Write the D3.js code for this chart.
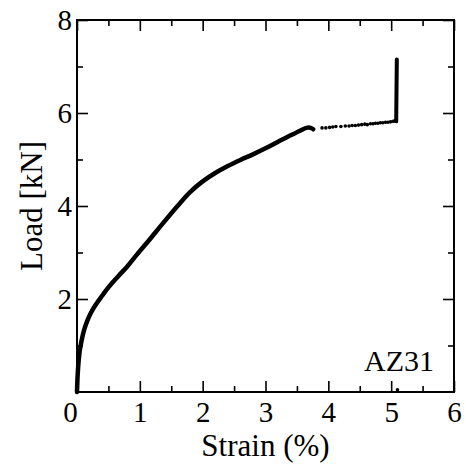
<!DOCTYPE html>
<html>
<head>
<meta charset="utf-8">
<script src="https://cdn.jsdelivr.net/npm/d3@7"></script>
<style>
  body { margin: 0; background: #fff; }
  text { font-family: "Liberation Serif", "Times New Roman", serif; }
</style>
</head>
<body>
<div id="plot"></div>
<script>
// main loading curve (dense data, drawn as a thick line)
let strain = [0, 0.01, 0.025, 0.045, 0.075, 0.11, 0.16, 0.22, 0.3, 0.4, 0.5, 0.65, 0.8, 0.95,
  1.15, 1.35, 1.6, 1.8, 2.0, 2.2, 2.4, 2.6, 2.8, 3.0, 3.2, 3.4, 3.55, 3.65, 3.72, 3.76];
let load = [0, 0.35, 0.65, 0.9, 1.12, 1.32, 1.52, 1.7, 1.88, 2.07, 2.25, 2.48, 2.7, 2.95,
  3.27, 3.6, 4.0, 4.3, 4.53, 4.71, 4.86, 4.99, 5.11, 5.24, 5.38, 5.52, 5.62, 5.68, 5.68, 5.65];

// sparse points after the necking
let dotStrain = [3.9, 3.96, 4.02, 4.07, 4.12, 4.2, 4.27, 4.33, 4.38, 4.43, 4.48, 4.53, 4.58, 4.62,
  4.67, 4.71, 4.75, 4.79, 4.83, 4.87, 4.91, 4.95, 4.99, 5.03, 5.06];
let dotLoad = [5.68, 5.68, 5.69, 5.7, 5.71, 5.71, 5.72, 5.72, 5.73, 5.73, 5.74, 5.75, 5.76, 5.75,
  5.77, 5.77, 5.78, 5.78, 5.79, 5.79, 5.8, 5.8, 5.81, 5.82, 5.83];

// vertical jump at fracture
let jumpStrain = [5.08, 5.09];
let jumpLoad = [5.82, 7.15];

// stray point
let strayStrain = [5.1];
let strayLoad = [0.05];

let xTicks = [0, 1, 2, 3, 4, 5, 6];
let yTicks = [2, 4, 6, 8];

let width = 466, height = 468;
let margin = { top: 20, right: 12, bottom: 76, left: 77 };

let svg = d3.select('#plot')
  .append('svg')
  .attr('width', width)
  .attr('height', height);

let xScale = d3.scaleLinear()
  .domain([0, 6])
  .range([margin.left, width - margin.right]);

let yScale = d3.scaleLinear()
  .domain([0, 8])
  .range([height - margin.bottom, margin.top]);

let plotB = height - margin.bottom, plotR = width - margin.right;

// axes with inward ticks
function styleAxis(g) {
  g.select('.domain').remove();
  g.selectAll('line').attr('stroke', '#000').attr('stroke-width', 1.6);
  g.selectAll('text').attr('font-size', 29).attr('fill', '#000')
    .style('font-family', '"Liberation Serif", serif');
}

let xMinor = d3.range(0.5, 6, 1);
let yMinor = d3.range(1, 8, 2);

svg.append('g').attr('transform', `translate(0,${plotB})`)
  .call(d3.axisBottom(xScale).tickValues(xTicks).tickSize(-11).tickPadding(9).tickFormat(d3.format('d')))
  .call(styleAxis)
  .selectAll('.tick text').attr('dx', d => d === 0 ? -7 : 0);
svg.append('g').attr('transform', `translate(0,${plotB})`)
  .call(d3.axisBottom(xScale).tickValues(xMinor).tickSize(-6).tickFormat(''))
  .call(styleAxis);
svg.append('g').attr('transform', `translate(0,${margin.top})`)
  .call(d3.axisTop(xScale).tickValues(xTicks).tickSize(-11).tickFormat(''))
  .call(styleAxis);
svg.append('g').attr('transform', `translate(0,${margin.top})`)
  .call(d3.axisTop(xScale).tickValues(xMinor).tickSize(-6).tickFormat(''))
  .call(styleAxis);

svg.append('g').attr('transform', `translate(${margin.left},0)`)
  .call(d3.axisLeft(yScale).tickValues(yTicks).tickSize(-11).tickPadding(5).tickFormat(d3.format('d')))
  .call(styleAxis);
svg.append('g').attr('transform', `translate(${margin.left},0)`)
  .call(d3.axisLeft(yScale).tickValues(yMinor).tickSize(-6).tickFormat(''))
  .call(styleAxis);
svg.append('g').attr('transform', `translate(${plotR},0)`)
  .call(d3.axisRight(yScale).tickValues(yTicks).tickSize(-11).tickFormat(''))
  .call(styleAxis);
svg.append('g').attr('transform', `translate(${plotR},0)`)
  .call(d3.axisRight(yScale).tickValues(yMinor).tickSize(-6).tickFormat(''))
  .call(styleAxis);

// frame
svg.append('rect')
  .attr('x', margin.left).attr('y', margin.top)
  .attr('width', plotR - margin.left).attr('height', plotB - margin.top)
  .attr('fill', 'none').attr('stroke', '#000').attr('stroke-width', 2);

// data
let line = d3.line().x(d => xScale(d[0])).y(d => yScale(d[1])).curve(d3.curveCatmullRom.alpha(0.5));

svg.append('path')
  .datum(d3.zip(strain, load))
  .attr('d', line)
  .attr('fill', 'none').attr('stroke', '#000').attr('stroke-width', 4.5)
  .attr('stroke-linecap', 'round').attr('stroke-linejoin', 'round');

svg.selectAll('.dot')
  .data(d3.zip(dotStrain, dotLoad))
  .enter().append('circle')
  .attr('class', 'dot')
  .attr('cx', d => xScale(d[0])).attr('cy', d => yScale(d[1]))
  .attr('r', 1.8).attr('fill', '#000');

svg.append('path')
  .datum(d3.zip(jumpStrain, jumpLoad))
  .attr('d', d3.line().x(d => xScale(d[0])).y(d => yScale(d[1])))
  .attr('fill', 'none').attr('stroke', '#000').attr('stroke-width', 4)
  .attr('stroke-linecap', 'round');

svg.selectAll('.stray')
  .data(d3.zip(strayStrain, strayLoad))
  .enter().append('circle')
  .attr('class', 'stray')
  .attr('cx', d => xScale(d[0])).attr('cy', d => yScale(d[1]))
  .attr('r', 1.8).attr('fill', '#000');

// labels
svg.append('text')
  .attr('x', (margin.left + plotR) / 2).attr('y', 456)
  .attr('text-anchor', 'middle').attr('font-size', 31)
  .text('Strain (%)');

svg.append('text')
  .attr('transform', `translate(42,${(margin.top + plotB) / 2}) rotate(-90)`)
  .attr('text-anchor', 'middle').attr('font-size', 31)
  .text('Load [kN]');

svg.append('text')
  .attr('x', 434).attr('y', 371)
  .attr('text-anchor', 'end').attr('font-size', 30)
  .text('AZ31');
</script>
</body>
</html>
